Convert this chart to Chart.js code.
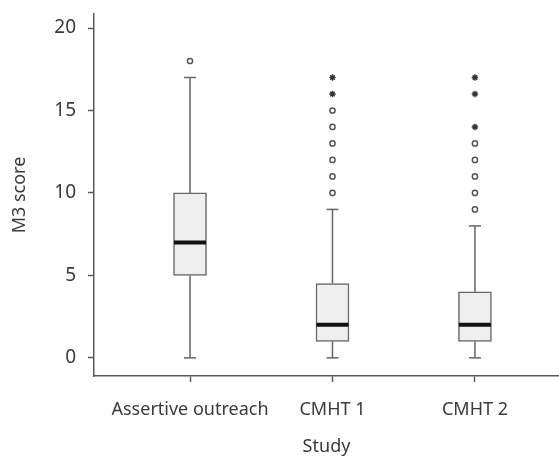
<!DOCTYPE html>
<html>
<head>
<meta charset="utf-8">
<script src="https://cdn.jsdelivr.net/npm/chart.js@4"></script>
<style>
  html, body { margin: 0; padding: 0; background: #fff; }
  canvas { display: block; }
</style>
</head>
<body>
<canvas id="box" width="559" height="458"></canvas>
<script>
// M3 score by study - box plot values
const studies = ['Assertive outreach', 'CMHT 1', 'CMHT 2'];
const whiskerLow = [0, 0, 0];
const q1 = [5, 1, 1];
const median = [7, 2, 2];
const q3 = [10, 4.5, 4];
const whiskerHigh = [17, 9, 8];
const outlierCircles = [[18], [10, 11, 12, 13, 14, 15], [9, 10, 11, 12, 13]];
const outlierStars = [[], [16, 17], [14, 16, 17]];
const yTicks = [0, 5, 10, 15, 20];

const axisColor = '#5a5a5a';
const textColor = '#3a3a3a';
const fontFamily = '"Noto Sans", "DejaVu Sans", sans-serif';

const whiskerData = [];
studies.forEach((s, i) => {
    whiskerData.push({ x: i + 1, y: whiskerLow[i] }, { x: i + 1, y: q1[i] }, { x: i + 1, y: null });
    whiskerData.push({ x: i + 1, y: q3[i] }, { x: i + 1, y: whiskerHigh[i] }, { x: i + 1, y: null });
});
const capData = [];
studies.forEach((s, i) => {
    capData.push({ x: i + 1, y: whiskerLow[i] }, { x: i + 1, y: whiskerHigh[i] });
});
const circleData = [];
const starData = [];
studies.forEach((s, i) => {
    outlierCircles[i].forEach(v => circleData.push({ x: i + 1, y: v }));
    outlierStars[i].forEach(v => starData.push({ x: i + 1, y: v }));
});

new Chart(document.getElementById('box').getContext('2d'), {
    type: 'bar',
    data: {
        datasets: [
            {
                type: 'line',
                data: whiskerData,
                borderColor: '#666',
                borderWidth: 1.5,
                pointRadius: 0,
                spanGaps: false,
                order: 5
            },
            {
                type: 'line',
                data: capData,
                showLine: false,
                pointStyle: 'line',
                pointRadius: 6,
                borderColor: '#666',
                borderWidth: 1.5,
                order: 4
            },
            {
                type: 'bar',
                data: studies.map((s, i) => ({ x: i + 1, y: [q1[i], q3[i]] })),
                backgroundColor: '#efefef',
                borderColor: '#666',
                borderWidth: 1.5,
                borderSkipped: false,
                barThickness: 33,
                order: 3
            },
            {
                type: 'line',
                data: studies.map((s, i) => ({ x: i + 1, y: median[i] })),
                showLine: false,
                pointStyle: 'line',
                pointRadius: 16,
                borderColor: '#111',
                borderWidth: 4,
                order: 2
            },
            {
                type: 'line',
                data: circleData,
                showLine: false,
                pointStyle: 'circle',
                pointRadius: 2.6,
                backgroundColor: '#fff',
                borderColor: '#555',
                borderWidth: 1.5,
                order: 1
            },
            {
                type: 'line',
                data: starData,
                showLine: false,
                pointStyle: 'star',
                pointRadius: 3.2,
                borderColor: '#333',
                borderWidth: 1.4,
                order: 1
            }
        ]
    },
    options: {
        responsive: false,
        animation: false,
        layout: { autoPadding: false, padding: { left: 0, right: 0, top: 14, bottom: 0 } },
        plugins: {
            legend: { display: false },
            tooltip: { enabled: false }
        },
        scales: {
            x: {
                type: 'linear',
                min: 0.326,
                max: 3.59,
                offset: false,
                afterBuildTicks: axis => { axis.ticks = [1, 2, 3].map(v => ({ value: v })); },
                afterFit: axis => {
                    axis.height = 82;
                    axis.paddingLeft = 0;
                    axis.paddingRight = 0;
                },
                grid: { offset: false, drawOnChartArea: false, drawTicks: true, tickLength: 6, tickColor: axisColor, tickWidth: 1.5 },
                border: { color: axisColor, width: 1.5 },
                ticks: {
                    color: textColor,
                    font: { family: fontFamily, size: 18 },
                    padding: 17,
                    maxRotation: 0,
                    autoSkip: false,
                    callback: v => studies[v - 1]
                },
                title: {
                    display: true,
                    text: 'Study',
                    color: textColor,
                    font: { family: fontFamily, size: 18 },
                    padding: { top: 0, bottom: 0 }
                }
            },
            y: {
                min: -1.1,
                max: 20.85,
                afterBuildTicks: axis => { axis.ticks = yTicks.map(v => ({ value: v })); },
                afterFit: axis => {
                    axis.width = 94;
                    axis.paddingTop = 0;
                    axis.paddingBottom = 0;
                },
                grid: { drawOnChartArea: false, drawTicks: true, tickLength: 6, tickColor: axisColor, tickWidth: 1.5 },
                border: { color: axisColor, width: 1.5 },
                ticks: {
                    color: textColor,
                    font: { family: fontFamily, size: 19 },
                    padding: 12
                },
                title: {
                    display: true,
                    text: 'M3 score',
                    color: textColor,
                    font: { family: fontFamily, size: 18 },
                    padding: { top: 9, bottom: 0 }
                }
            }
        }
    }
});
</script>
</body>
</html>
